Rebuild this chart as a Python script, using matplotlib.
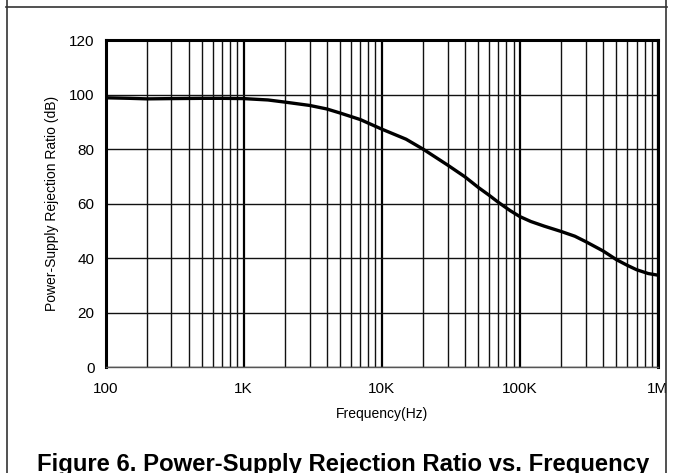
import matplotlib.pyplot as plt
import matplotlib.ticker as mticker
from matplotlib.lines import Line2D

plt.rcParams['font.family'] = ['Liberation Sans', 'DejaVu Sans']

# PSRR curve
freq_hz = [100, 150, 200, 300, 500, 700, 1e3, 1.5e3, 2e3, 3e3, 4e3, 5e3, 7e3,
           1e4, 1.5e4, 2e4, 3e4, 4e4, 5e4, 6e4, 7e4, 8.5e4, 1e5, 1.2e5, 1.5e5,
           2e5, 2.5e5, 3e5, 4e5, 5e5, 6e5, 7e5, 8.5e5, 1e6]
psrr_db = [98.8, 98.6, 98.4, 98.5, 98.6, 98.6, 98.5, 98.0, 97.2, 96.0, 94.7, 93.2, 90.8,
           87.3, 83.6, 79.9, 74.1, 69.8, 65.9, 63.0, 60.4, 57.4, 55.2, 53.4, 51.7,
           49.7, 48.0, 46.0, 42.6, 39.4, 37.3, 35.7, 34.3, 33.7]

xtick_vals = [100, 1e3, 1e4, 1e5, 1e6]
xtick_text = ['100', '1K', '10K', '100K', '1M']
ytick_vals = [0, 20, 40, 60, 80, 100, 120]

fig = plt.figure(figsize=(6.73, 4.73), dpi=100)
ax = fig.add_axes([0.1568, 0.2241, 0.8209, 0.6913])

ax.set_xscale('log')
ax.set_xlim(100, 1e6)
ax.set_ylim(0, 120)

ax.xaxis.set_minor_locator(mticker.LogLocator(base=10, subs=range(2, 10)))
ax.xaxis.set_minor_formatter(mticker.NullFormatter())
ax.set_xticks(xtick_vals)
ax.set_xticklabels(xtick_text)
ax.set_yticks(ytick_vals)

ax.grid(which='major', axis='x', color='black', lw=1.6)
ax.grid(which='minor', axis='x', color='#111111', lw=1.0)
ax.grid(which='major', axis='y', color='#111111', lw=1.0)
ax.tick_params(axis='x', which='both', length=0, labelsize=11, pad=11)
ax.tick_params(axis='y', which='both', length=0, labelsize=11, pad=8)

for side in ['top', 'left', 'right']:
    ax.spines[side].set_linewidth(2.2)
    ax.spines[side].set_color('black')
ax.spines['bottom'].set_linewidth(1.0)
ax.spines['bottom'].set_color('#555555')

ax.plot(freq_hz, psrr_db, color='black', lw=2.4, solid_capstyle='round',
        solid_joinstyle='round')

ax.set_xlabel('Frequency(Hz)', fontsize=10, labelpad=8)
ax.set_ylabel('Power-Supply Rejection Ratio (dB)', fontsize=10, labelpad=7)

# outer frame of the figure panel
fig.add_artist(Line2D([6 / 673, 667 / 673], [1 - 7 / 473, 1 - 7 / 473],
                      color='#333333', lw=1.2, transform=fig.transFigure))
fig.add_artist(Line2D([7 / 673, 7 / 673], [0, 1], color='#333333', lw=1.2,
                      transform=fig.transFigure))
fig.add_artist(Line2D([666 / 673, 666 / 673], [0, 1], color='#333333', lw=1.2,
                      transform=fig.transFigure))

fig.text(0.51, 1 - 464 / 473, 'Figure 6. Power-Supply Rejection Ratio vs. Frequency',
         ha='center', va='center', fontsize=17.2, fontweight='bold')

fig.savefig('out.png', dpi=100)
